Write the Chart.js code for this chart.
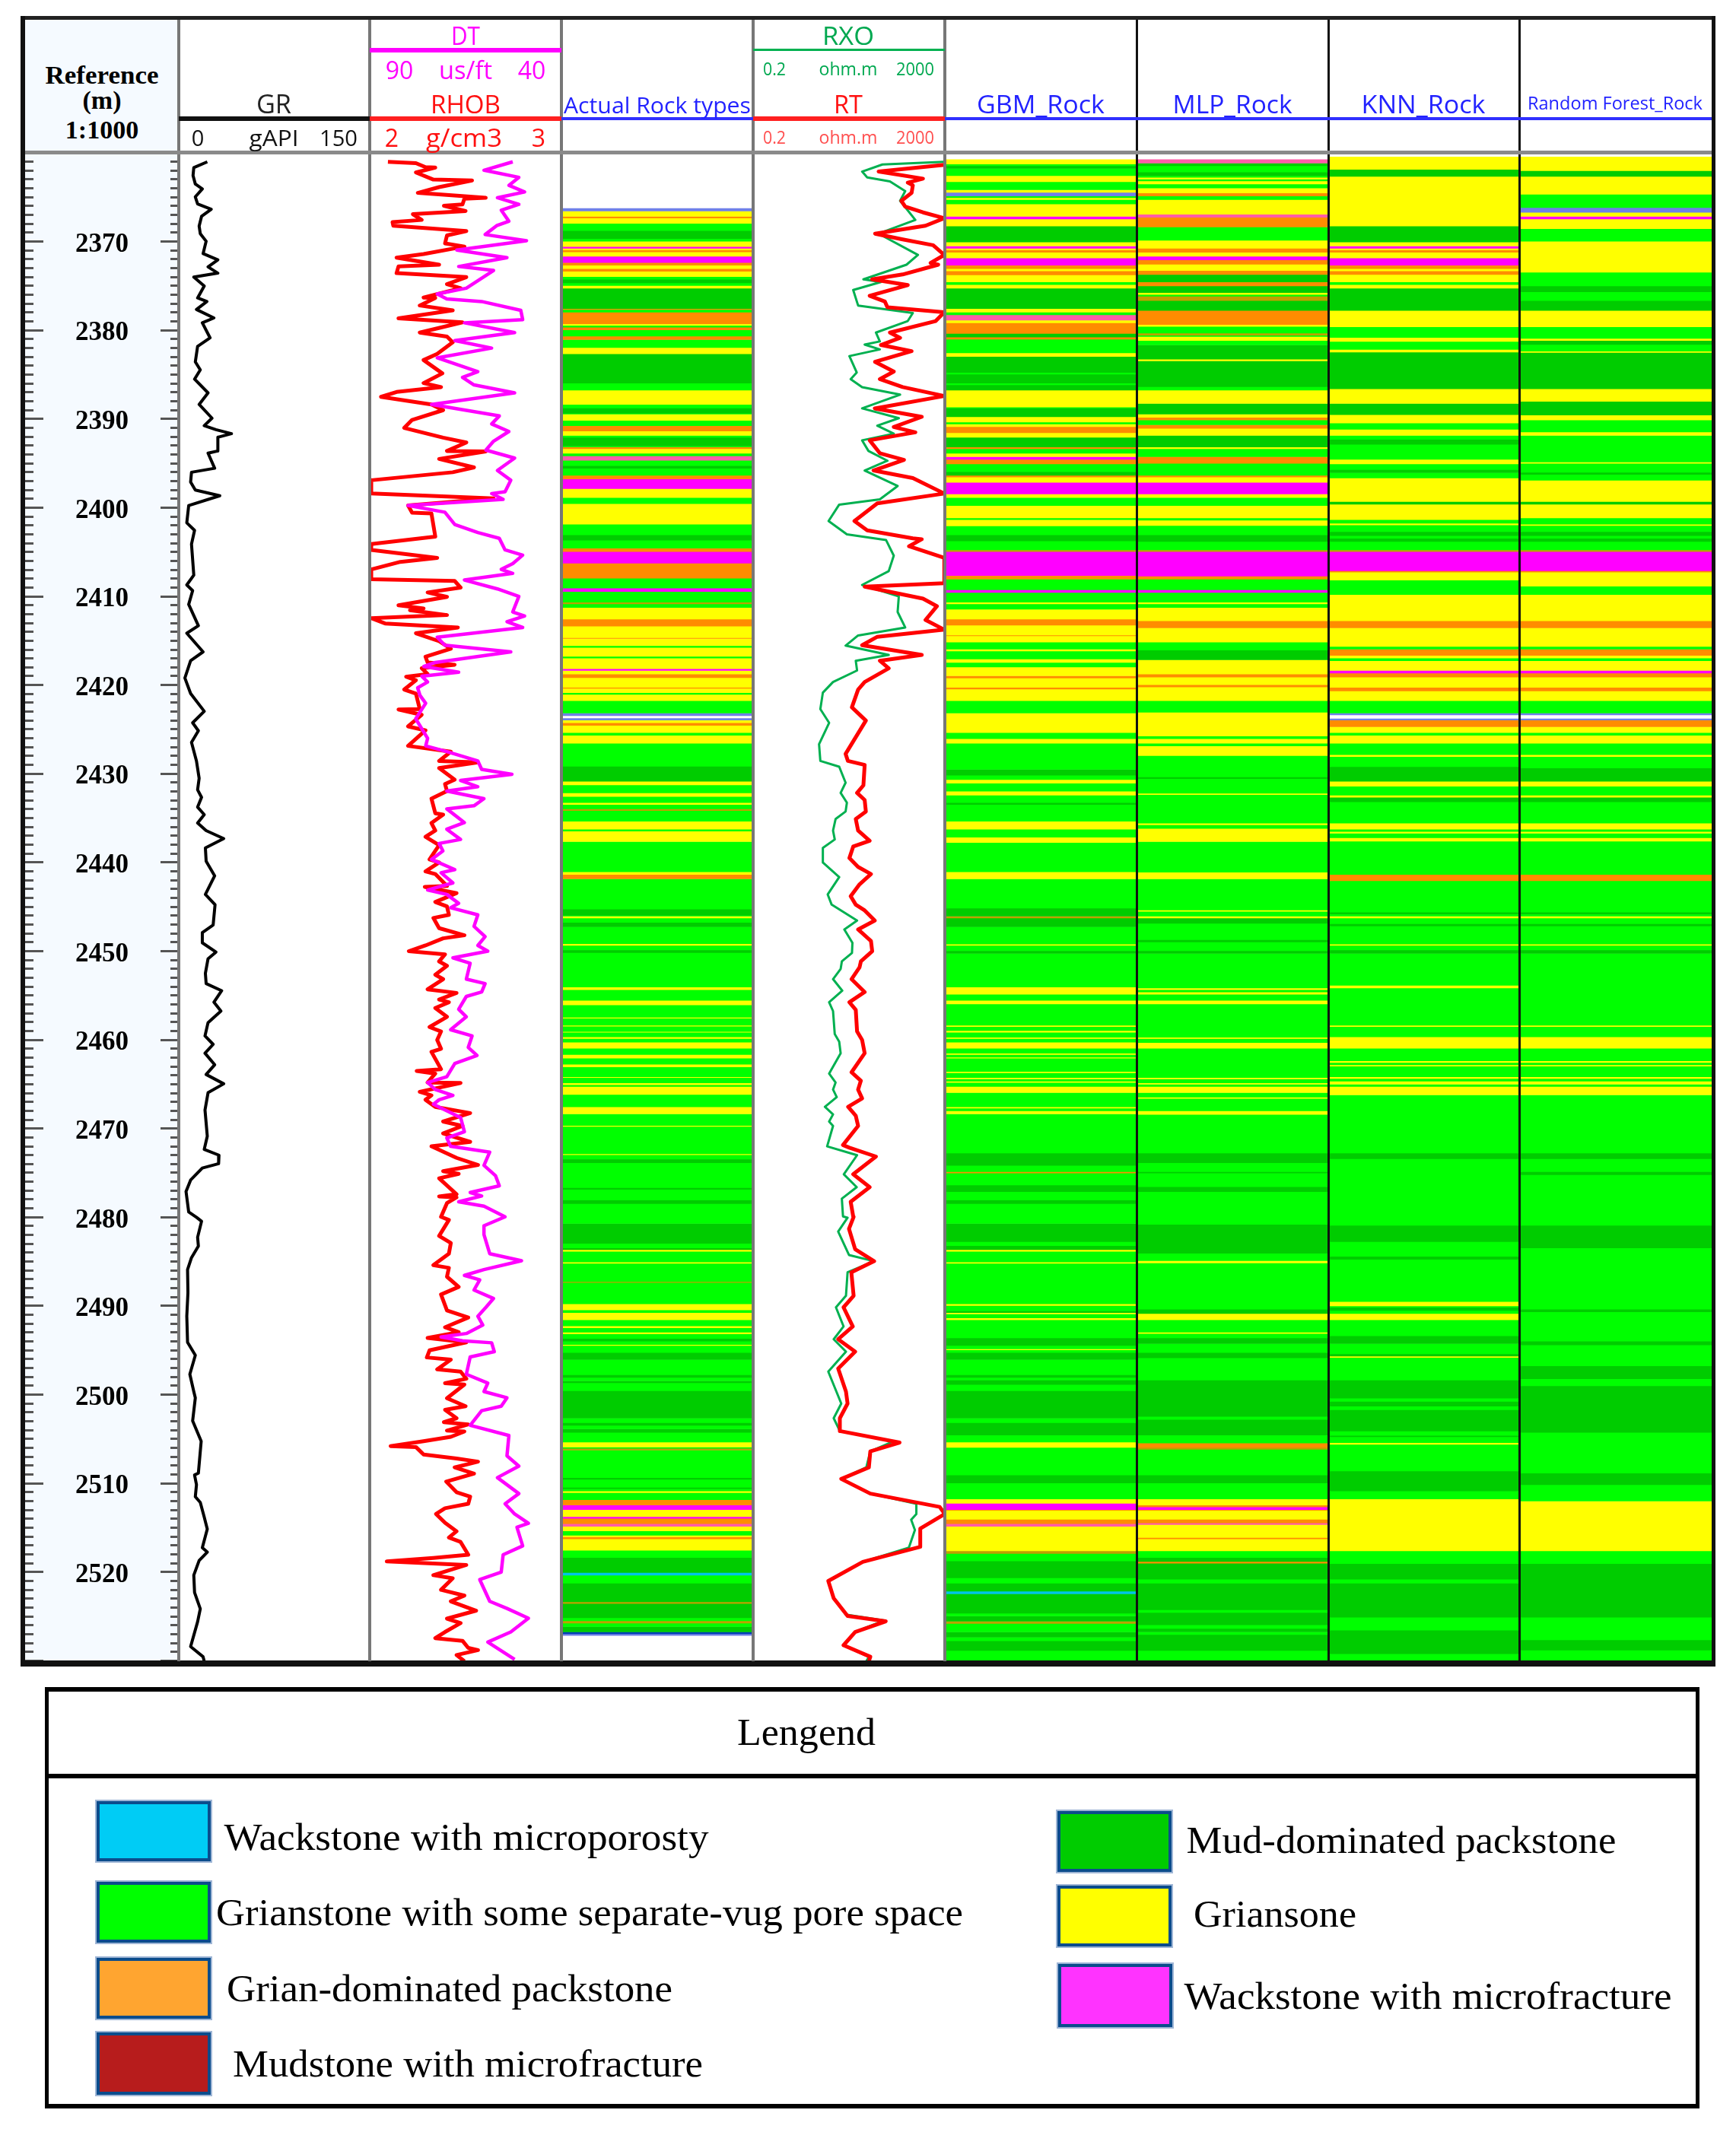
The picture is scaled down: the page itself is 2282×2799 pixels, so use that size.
<!DOCTYPE html>
<html>
<head>
<meta charset="utf-8">
<title>Rock type log</title>
<script src="https://cdn.jsdelivr.net/npm/chart.js"></script>
<style>
  html, body { margin: 0; padding: 0; background: #fff; }
  #page { position: relative; width: 2282px; height: 2799px; overflow: hidden; background: #fff; filter: blur(0.7px); }
  #page canvas { position: absolute; }
  .box { position: absolute; }
  .txt { position: absolute; white-space: nowrap; line-height: 1; }
</style>
</head>
<body>
<div id="page"></div>
<script>
const depthTop = 2360.3;
const depthBottom = 2530.1;
const depthLabels = [2370, 2380, 2390, 2400, 2410, 2420, 2430, 2440, 2450, 2460, 2470, 2480, 2490, 2500, 2510, 2520];

// curves are [depth m, reading]
const grLog = [[2361.05,22.4],[2361.7,11.8],[2362.6,11.2],[2363.55,13],[2364.1,18.5],[2365,13],[2365.8,14.8],[2366.4,25.5],[2367.2,17.9],[2368.3,16],[2369.15,16.9],[2370,21.5],[2371.4,19.1],[2372.1,30.7],[2372.9,23],[2373.6,30.7],[2374.05,11.8],[2375.05,20],[2376.4,14.8],[2376.8,22.1],[2377.7,13.9],[2378.65,27.6],[2379.2,18.5],[2380.9,24.6],[2381.85,14.8],[2383.6,13],[2384.5,16.9],[2385.55,12.4],[2387.1,23],[2388.4,16],[2389.95,26.1],[2390.8,20],[2391.25,29.2],[2391.7,41.4],[2392.1,30.7],[2393.65,30.7],[2393.9,23],[2395.6,28.2],[2396.05,10],[2397.15,9.3],[2398.05,13],[2398.7,32.2],[2399.8,7.8],[2401.75,6.3],[2402.6,12.4],[2404.15,10],[2407.65,11.8],[2408.75,6.3],[2409.4,10.9],[2410.95,7.8],[2413.35,15.4],[2414.2,6.3],[2416.3,19.1],[2417.3,9.3],[2419.25,4.8],[2421,9.3],[2423,20],[2424.3,10.9],[2425.2,15.4],[2426.5,10],[2428.6,13.9],
  [2430.55,16],[2431.85,14.8],[2432.7,17.9],[2433.8,14.8],[2434.65,20],[2435.6,14.8],[2436.45,21.5],[2437.35,35.3],[2438.4,20.9],[2439.9,21.5],[2441.55,28.2],[2443.65,20.9],[2444.8,28.5],[2447.1,27],[2447.95,18.5],[2449.1,18.5],[2450.15,29.2],[2450.9,23],[2452.55,20.9],[2453.7,21.5],[2454.5,33.7],[2455.8,27.6],[2456.8,33.1],[2458.1,23],[2459.6,20.6],[2460.55,27],[2461.55,20.6],[2462.85,28.2],[2463.95,21.5],[2465,35.3],[2466,23],[2467.95,20.6],[2470.9,22.4],[2472.4,20],[2473.05,31.6],[2474,31.3],[2474.5,18.5],[2475.85,9.3],[2477.15,5.7],[2479.45,7.8],
  [2480.05,13.9],[2480.5,17.9],[2482.3,14.8],[2483.3,15.4],[2484.6,10],[2485.95,6.9],[2488.55,7.2],[2491.2,6.3],[2494.15,6.9],[2495.6,13],[2497.75,8.7],[2499.7,11.8],[2500.4,13],[2503,10.9],[2505.3,17.6],[2508.9,15.4],[2509.1,12.4],[2510.2,13.9],[2511.55,13],[2512.2,16.9],[2513.85,20],[2515.2,22.4],[2517.3,18.5],[2517.8,22.4],[2518.75,16],[2520.4,11.8],[2522.35,12.4],[2524.2,16.9],[2525.65,14.8],[2528.45,9.3],[2529.6,19.1],[2530.1,20]];

const rhobLog = [[2361.05,2.095],[2361.2,2.241],[2361.65,2.291],[2361.7,2.342],[2362.25,2.241],[2363.05,2.332],[2363.15,2.534],[2363.9,2.362],[2364.55,2.251],[2365.1,2.605],[2365.2,2.494],[2365.85,2.484],[2366,2.387],[2366.6,2.5],[2366.95,2.225],[2367.6,2.271],[2367.85,2.119],[2368.25,2.123],[2368.85,2.504],[2369.35,2.403],[2370.25,2.393],[2370.6,2.494],[2371.45,2.281],[2371.85,2.14],[2372.65,2.362],[2372.85,2.15],[2373.6,2.14],[2374.05,2.504],[2374.85,2.403],[2375.3,2.474],[2376.35,2.281],[2376.4,2.342],[2377.25,2.261],[2377.8,2.433],[2378.7,2.15],[2379.15,2.484],[2380.3,2.261],[2380.75,2.403],[2381.4,2.433],[2382.7,2.352],[2383.4,2.281],[2384.9,2.379],[2386,2.281],[2386.45,2.372],[2387,2.14],[2387.55,2.059],[2388.4,2.322],[2389.05,2.383],[2390.15,2.221],[2391.05,2.18],[2392.15,2.383],[2392.7,2.504],[2393.65,2.403],[2393.7,2.605],[2394.55,2.362],[2395.5,2.544],[2396.05,2.433],[2396.95,2.008],[2398.45,2.008],[2399,2.646],[2399.8,2.2],[2400.6,2.221],[2400.7,2.322],[2403.3,2.342],[2404.15,2.008],[2404.8,2.008],[2405.7,2.352],[2406.15,2.16],[2407,2.008],[2408.1,2.008],[2408.3,2.443],[2409.05,2.474],[2409.6,2.302],[2410.1,2.403],[2411.05,2.15],[2411.4,2.281],[2411.6,2.21],[2412.15,2.403],[2412.5,2.008],[2413.1,2.08],[2413.55,2.46],[2414.2,2.241],[2415.1,2.362],[2415.95,2.423],[2416.85,2.291],[2417.5,2.302],[2417.75,2.443],[2418.15,2.271],[2418.8,2.302],[2419.1,2.19],[2419.5,2.241],[2420.55,2.18],[2421,2.241],[2422.75,2.261],[2422.8,2.15],[2423.4,2.271],[2424.7,2.2],[2425.15,2.291],[2426.9,2.2],[2427.55,2.423],[2428.6,2.362],
  [2428.75,2.565],[2429.4,2.362],[2430.7,2.443],[2431.2,2.393],[2432,2.403],[2432.85,2.322],[2434.5,2.342],[2434.65,2.383],[2435.6,2.322],[2436.45,2.342],[2437.15,2.291],[2438.1,2.362],[2439.7,2.312],[2440.05,2.362],[2441.05,2.291],[2441.35,2.342],[2442.7,2.403],[2442.8,2.287],[2443.5,2.453],[2444.5,2.342],[2445,2.403],[2445.95,2.413],[2446.3,2.332],[2447.45,2.362],[2448.25,2.494],[2448.6,2.383],[2449.4,2.291],[2450.05,2.204],[2450.4,2.393],[2451.2,2.362],[2451.7,2.403],[2452.7,2.342],[2453.2,2.383],[2454.35,2.302],[2454.75,2.453],[2455.5,2.362],[2455.8,2.413],[2456.45,2.342],[2457.45,2.403],[2458.6,2.312],[2459.1,2.372],[2460.05,2.352],[2461.05,2.372],[2461.4,2.322],[2463.35,2.372],[2463.55,2.245],[2463.85,2.342],[2464.85,2.302],[2464.9,2.474],[2465.9,2.261],[2466.3,2.322],[2466.8,2.291],[2467.6,2.342],[2468.3,2.524],[2469.25,2.383],[2469.75,2.484],[2470.6,2.383],[2471.55,2.524],[2472.05,2.322],[2473.35,2.453],[2474.15,2.565],[2474.85,2.383],[2475.15,2.464],[2475.65,2.362],[2477.45,2.453],[2477.7,2.362],[2477.8,2.453],[2478.45,2.403],[2480,2.372],
  [2480.35,2.413],[2482.15,2.362],[2482.95,2.423],[2484.15,2.413],[2485.45,2.332],[2485.75,2.413],[2486.75,2.403],[2487.9,2.464],[2488.75,2.372],[2490.55,2.403],[2491.35,2.514],[2492.45,2.393],[2493,2.464],[2493.65,2.302],[2494.15,2.504],[2495.05,2.312],[2495.85,2.298],[2496.1,2.423],[2497.2,2.352],[2497.45,2.474],[2498.25,2.504],[2498.75,2.393],[2498.9,2.494],[2500.45,2.403],[2501.35,2.5],[2501.75,2.393],[2502.7,2.453],[2503.15,2.387],[2503.4,2.514],[2504.1,2.403],[2504.2,2.494],[2504.8,2.423],[2505.3,2.281],[2505.85,2.109],[2505.95,2.241],[2506.8,2.281],[2507.25,2.453],[2507.6,2.565],[2508.25,2.443],[2508.95,2.544],[2509.85,2.399],[2511.05,2.453],[2511.55,2.524],[2512.35,2.514],[2512.85,2.393],[2513.5,2.346],[2514.5,2.393],[2515.45,2.453],[2516.15,2.413],[2516.65,2.474],[2518.1,2.514],[2518.45,2.332],[2518.85,2.089],[2519.25,2.504],[2520.4,2.332],[2520.75,2.433],[2522.05,2.372],[2522.7,2.494],[2523.35,2.423],[2524.4,2.555],[2525.3,2.403],[2525.8,2.474],[2526.8,2.393],[2527.5,2.342],[2527.8,2.484],[2528.6,2.514],[2528.85,2.565],[2529.4,2.453],[2530.1,2.494]];

const dtLog = [[2361.05,52.7],[2362,60.2],[2362.8,51.1],[2363.7,53.7],[2364.45,49.6],[2365.1,56.7],[2365.85,51.1],[2366.5,55.7],[2367.75,53.7],[2368.25,56.9],[2369.25,59.9],[2369.95,49.1],[2371,67.3],[2371.85,54.2],[2372.85,66.8],[2373.3,57.7],[2375.3,64.8],[2375.95,72.4],[2376.5,69.9],[2376.8,60.8],[2377.8,50.6],[2378.85,50.1],[2379.2,65.3],[2380.3,52.2],[2381.2,67.8],[2382.05,58.2],[2383.15,72.4],[2384.7,61.8],[2385.35,65.8],[2386.2,62.8],[2387.1,52.2],[2388.4,73.9],[2389.7,56.2],[2390.6,58.2],[2391.45,53.7],[2392.55,57.7],[2393.55,59.7],[2394.45,52.2],[2395.85,56.7],[2396.95,53.2],[2398.25,54.7],[2398.45,58.2],[2399.1,55.2],[2399.8,80],[2400.55,70.4],[2401.95,67.8],[2402.85,61.8],[2403.5,56.2],[2404.8,54.7],[2405.4,50.1],[2406.35,52.7],[2407,55.7],[2407.45,52.7],[2408.2,65.3],[2409.2,56.7],[2410.05,51.1],[2411.8,52.7],[2412.25,49.6],[2412.9,54.2],[2413.55,50.1],[2414.65,72.4],[2415.55,70.4],[2416.3,53.2],[2417.5,72.9],[2417.95,75.9],[2418.6,66.8],[2419.05,76.4],[2419.7,74.9],[2420.35,77.5],[2421.2,76.9],[2422.1,75.4],[2423.85,78],[2426.05,74.9],[2426.9,75.4],[2427.55,69.9],[2428.6,61.8],
  [2429.55,60.8],[2430.1,52.9],[2430.8,66.3],[2431.5,61.8],[2432,69.9],[2432.85,60.2],[2433.65,62.8],[2434,69.9],[2435.55,65.3],[2436.3,69.9],[2437.45,66.3],[2437.9,71.9],[2438.75,70.9],[2439.7,73.9],[2440.85,67.8],[2441.2,71.4],[2442.35,68.3],[2443.15,74.9],[2443.65,69.9],[2444.65,66.8],[2445.15,68.9],[2445.95,61.8],[2447.25,62.8],[2448.4,59.9],[2449.4,61.8],[2450.05,59.2],[2450.8,68.3],[2451.4,63.8],[2453.2,64.8],[2453.7,59.9],[2454.65,60.8],[2455.15,64.8],[2456.6,66.8],[2457.45,64.8],[2458.9,68.9],[2459.6,63.3],[2460.9,64.3],[2461.8,62],[2462.7,67.8],[2464.2,69.9],[2464.85,74.9],[2465.65,72.9],[2466.3,68.3],[2466.8,71.9],[2467.3,73.4],[2468.8,66.3],[2470.4,65.3],[2471.1,69.9],[2472.05,68.9],[2472.7,58.7],[2474.2,60.2],[2475.35,57.2],[2476.5,56.2],[2477.25,63.8],[2477.65,60.8],[2478.3,66.8],[2478.8,60.2],[2480,54.7],
  [2481,60.2],[2482,60.2],[2484.15,58.7],[2484.95,50.4],[2485.95,60.2],[2486.6,65.3],[2487.1,61.3],[2488.25,62.8],[2489.2,57.7],[2490.2,59.7],[2491.2,61.8],[2492.2,60.5],[2493.15,64.8],[2493.55,71.4],[2493.98,65.8],[2494.2,58.2],[2495.2,57.5],[2495.8,63.8],[2497.75,64.8],[2498.75,59.2],[2499.7,60.2],[2500.4,54.2],[2501.35,55.7],[2501.85,60.8],[2503.5,63.8],[2504.65,53.7],[2506.95,54.2],[2508.1,51.1],[2509.4,56.7],[2511.2,51.1],[2512.35,54.7],[2513.5,52.2],[2514.55,48.6],[2515,51.6],[2517.1,50.1],[2518.1,55.2],[2520.05,55.7],[2520.9,61.3],[2523.35,58.7],[2524.15,54.2],[2525.25,48.6],[2526.8,53.2],[2527.95,59.2],[2529.9,52.2]];

const rxoLog = [[2361.05,1950],[2361.35,99.6],[2362.15,37.6],[2362.8,48],[2363.25,143],[2364.35,298],[2365.45,233],[2367.6,485],[2369.15,83],[2371.55,549],[2372.65,317],[2374.3,40],[2374.6,93],[2375.5,24.5],[2377.25,31],[2378.1,430],[2379,337],[2380.3,73],[2381.3,88],[2381.65,42.5],[2382.2,88],[2382.95,20.4],[2384.8,29],[2385.55,21.7],[2386.45,37.6],[2387.3,233],[2388.85,37.6],[2389.95,219],[2390.8,78],[2391.7,172],[2392.45,37.6],[2393.65,51],[2394.75,127],[2395.85,42.5],[2397.6,207],[2399.1,88],[2399.7,12.5],[2401.55,7.5],[2403.05,18.1],[2403.7,119],[2405.45,172],[2407.2,135],[2408.75,37.6],[2410.05,219],[2411.8,207],[2413.55,298],[2414.45,31],[2415.6,17],[2416.65,135],[2417.3,27.7],[2418.4,29.5],[2419.7,9.3],[2420.9,5.7],[2422.75,5.05],[2424.3,7.7],[2426.7,4.75],[2428.6,5.05],
  [2429.25,12.5],[2431.05,17],[2432.2,13.4],[2433.3,18.1],[2434.3,17],[2435.15,10.5],[2436.45,9.3],[2437.45,10.1],[2438.4,5.7],[2440.05,5.7],[2441.7,12.5],[2443.65,7.2],[2444.8,8.7],[2446.6,29.5],[2447.6,16],[2449.1,23.6],[2450.25,23.1],[2451.2,14.2],[2452.05,13.4],[2453.2,9.3],[2454.5,14.5],[2455.8,7.7],[2456.8,9.3],[2459.4,10.1],[2460.25,12.5],[2461.55,13.4],[2463.85,7.7],[2464.85,10.5],[2465.65,9.3],[2466.5,11.1],[2467.6,6.3],[2468.45,9.3],[2469.25,7.7],[2469.75,9.3],[2472.05,7],[2473.05,29.5],[2475.2,15.6],[2476.65,29],[2477.95,14.2],[2479.95,15],
  [2480.1,18.7],[2481.65,11.9],[2484.3,20],[2485,67],[2486.25,18.7],[2488.9,17.3],[2490.2,10.7],[2492.35,15.4],[2493.8,9.6],[2495.2,17.3],[2497.45,7.4],[2501.05,13.8],[2502.7,9.6],[2504.15,12.9],[2505.3,170],[2506.45,55.7],[2508.25,46],[2509.55,13.8],[2511.2,55.7],[2512.35,509],[2513.5,509],[2514.15,397],[2515.3,475],[2517.3,355],[2518.9,38.9],[2521.05,7.4],[2523,9.6],[2524.85,17.3],[2525.5,109],[2526.8,26.9],[2528.3,15.4],[2529.6,52],[2530.1,46]];

const rtLog = [[2361.4,1950],[2362.15,83],[2362.95,700],[2363.4,337],[2363.7,430],[2364.55,405],[2365.45,248],[2366.1,298],[2366.75,700],[2367.4,1950],[2368.25,790],[2369.15,70],[2369.8,264],[2370.45,1140],[2371.55,1950],[2372.45,1010],[2372.65,1455],[2373.75,264],[2374.3,61],[2374.95,337],[2376.15,54],[2376.8,112],[2377.45,127],[2378,1950],[2379,1290],[2380.3,143],[2380.9,233],[2381.7,93],[2382.4,405],[2383.6,70],[2384.7,172],[2385.55,88],[2386.45,264],[2387.45,1950],[2388.85,69],[2389.8,660],[2390.95,172],[2391.55,485],[2392.45,54],[2393.9,88],[2394.65,281],[2395.85,65],[2396.7,430],[2398.45,1950],[2399.55,78],[2401.55,26],[2402.6,48],[2403.5,430],[2403.6,660],[2404.4,358],[2405.7,1950],[2408.55,1950],[2408.95,42.5],[2410.3,700],[2411.15,1370],[2412.7,790],[2413.8,1950],[2414.6,78],[2415.55,37.6],[2416.65,660],[2417.3,88],[2418.15,135],[2419.7,42.5],[2420.55,31],[2422.55,23],[2424.05,45],[2427.8,17],[2428.6,19],
  [2429.05,42.5],[2431.35,40],[2432.2,29.5],[2433,42.5],[2434.3,45],[2435.15,27.7],[2436.45,31],[2437.6,54],[2438.25,24.5],[2439.55,20.4],[2440.55,31],[2441.35,57.5],[2442.5,33.3],[2443.85,21.7],[2444.8,27.7],[2445.45,42.5],[2446.6,69],[2447.6,31],[2448.9,57.5],[2450.05,61],[2451.2,35.4],[2451.85,33.3],[2453.2,22.6],[2454.65,42.5],[2455.8,20.4],[2456.65,27.7],[2459.1,29.5],[2460.05,37.6],[2461.55,42.5],[2463.7,22.6],[2464.65,35.4],[2465.65,31],[2466.65,37.6],[2467.6,19.2],[2468.6,27.7],[2469.75,31],[2471.9,15],[2472.2,20.4],[2473.2,73],[2475.2,24.5],[2476.65,54],[2478.3,21.7],[2479.95,24.5],
  [2480,25],[2481.35,20],[2483.65,26.9],[2485,67],[2486.25,22.4],[2488.9,25],[2490.2,15.4],[2492.35,24],[2493.8,11.9],[2495.2,26.9],[2497.1,11.9],[2499.7,17.3],[2501.05,18.7],[2502.7,12.9],[2504.15,12.9],[2505.45,227],[2506.45,55.7],[2508.25,52],[2509.55,13.8],[2511.2,55.7],[2512.7,1560],[2513.5,2000],[2515.15,614],[2517.2,614],[2518.9,38.9],[2521.05,7.4],[2523,9.6],[2525,18.7],[2525.6,117],[2526.8,26.9],[2528.3,15.4],[2529.6,55.7],[2530.1,52]];

// rock bands are [top depth m, facies code]; a band runs to the next top, null means no core
const actualBands = [[2366.3,'B'],[2366.6,'Y'],[2367.2,'O'],[2367.4,'Y'],[2368,'G'],[2368.8,'D'],[2369.7,'G'],[2370,'Y'],[2370.6,'F'],[2370.8,'Y'],[2371,'O'],[2371.2,'Y'],[2371.7,'F'],[2372.4,'O'],[2372.7,'Y'],[2373.1,'O'],[2373.4,'Y'],[2374,'G'],[2374.3,'D'],[2374.7,'G'],[2375,'Y'],[2375.3,'D'],[2377.6,'O'],[2377.7,'G'],[2378,'O'],[2379.3,'Y'],[2379.5,'G'],[2379.7,'O'],[2380,'G'],[2380.7,'O'],[2381.1,'G'],[2382,'Y'],[2382.7,'D'],[2386,'G'],[2386.8,'Y'],[2388.4,'G'],[2388.8,'D'],[2389.4,'G'],[2389.5,'Y'],[2390.2,'G'],[2390.8,'O'],[2391.4,'Y'],[2391.9,'G'],[2392.1,'D'],[2393.1,'G'],[2393.2,'O'],[2393.4,'Y'],[2393.9,'G'],[2394.2,'P'],[2394.7,'G'],[2395.3,'D'],[2395.6,'G'],[2396.4,'O'],[2396.8,'F'],[2397.9,'Y'],[2398.9,'G'],[2399.6,'Y'],[2401.9,'G'],[2403.1,'D'],[2403.7,'G'],[2404.6,'O'],[2405,'F'],[2406.3,'O'],[2408,'G'],[2409.1,'F'],[2409.5,'G'],[2410.7,'L'],[2410.9,'G'],[2411.3,'Y'],[2412.6,'O'],[2413.4,'Y'],[2414.7,'O'],[2414.8,'Y'],[2415.6,'G'],[2415.8,'Y'],[2416.8,'G'],[2417,'Y'],[2418.2,'F'],[2418.4,'Y'],[2418.8,'O'],[2419.2,'Y'],[2420.3,'O'],[2420.4,'Y'],[2420.9,'G'],[2421.1,'Y'],[2421.8,'G'],[2423.2,'B'],[2423.5,null],[2423.8,'B'],[2424,'Y'],[2424.3,'O'],[2424.6,'Y'],[2425.4,'G'],[2425.7,'Y'],[2426.6,'G'],
  [2429.2,'D'],[2430.9,'Y'],[2431.3,'G'],[2432.2,'Y'],[2432.6,'G'],[2433.3,'Y'],[2433.5,'G'],[2434,'L'],[2434.2,'G'],[2435.4,'Y'],[2436.3,'G'],[2436.5,'Y'],[2437.7,'G'],[2441.1,'Y'],[2441.4,'O'],[2441.9,'G'],[2445.3,'D'],[2446,'G'],[2446.1,'Y'],[2446.3,'G'],[2446.8,'D'],[2447.3,'G'],[2449.2,'Y'],[2449.4,'G'],[2449.9,'D'],[2450.2,'G'],[2454.1,'Y'],[2454.4,'G'],[2455.6,'Y'],[2456.1,'G'],[2457.5,'Y'],[2457.6,'G'],[2458.4,'Y'],[2458.5,'G'],[2459.1,'Y'],[2459.2,'G'],[2459.7,'Y'],[2459.9,'G'],[2460.3,'Y'],[2461,'G'],[2461.7,'Y'],[2462.1,'G'],[2462.8,'Y'],[2463.1,'G'],[2464.2,'Y'],[2464.3,'G'],[2464.9,'Y'],[2465.1,'G'],[2465.3,'Y'],[2466.2,'G'],[2467.6,'Y'],[2468.4,'G'],[2469.7,'Y'],[2469.8,'G'],[2472.9,'Y'],[2473,'G'],[2473.5,'D'],[2473.9,'G'],[2476.7,'D'],[2476.9,'G'],[2478.1,'D'],[2478.5,'G'],
  [2480.75,'D'],[2483,'G'],[2483.5,'D'],[2483.7,'Y'],[2483.9,'G'],[2485.1,'Y'],[2485.25,'G'],[2487.3,'L'],[2487.4,'G'],[2489.8,'Y'],[2490.5,'G'],[2490.8,'Y'],[2491.6,'G'],[2492.3,'Y'],[2492.5,'G'],[2493,'Y'],[2493.2,'G'],[2493.7,'D'],[2494,'G'],[2494.4,'Y'],[2494.5,'G'],[2495.3,'D'],[2496.1,'G'],[2497.8,'D'],[2498.1,'G'],[2498.5,'D'],[2498.7,'G'],[2499.6,'D'],[2502.7,'G'],[2503.2,'D'],[2503.5,'G'],[2503.9,'D'],[2504.3,'G'],[2505.4,'Y'],[2505.96,'G'],[2506.1,'L'],[2506.3,'G'],[2509.4,'D'],[2509.6,'G'],[2510.5,'D'],[2510.65,'G'],[2510.9,'Y'],[2511.1,'G'],[2511.9,'O'],[2512.5,'F'],[2513,'Y'],[2513.8,'F'],[2514,'O'],[2514.6,'P'],[2514.9,'Y'],[2515.4,'G'],[2515.9,'Y'],[2516.1,'O'],[2516.3,'Y'],[2517.6,'G'],[2518.4,'D'],[2520.1,'C'],[2520.4,'G'],[2521.3,'D'],[2523.4,'L'],[2523.6,'D'],[2525.2,'G'],[2525.55,'L'],[2525.8,'G'],[2526.2,'D'],[2526.8,'N'],[2527,'B'],[2527.2,null]];

const gbmBands = [[2360.8,'Y'],[2361.3,'G'],[2361.5,'D'],[2361.8,'G'],[2362.6,'Y'],[2363.3,'G'],[2364.2,'Y'],[2364.5,'B'],[2364.9,'G'],[2365.1,'Y'],[2365.3,'G'],[2365.8,'Y'],[2367.2,'F'],[2367.5,'Y'],[2368.3,'D'],[2370.1,'Y'],[2370.55,'F'],[2370.8,'Y'],[2371,'O'],[2371.25,'Y'],[2371.9,'F'],[2372.7,'O'],[2373.1,'Y'],[2373.35,'O'],[2373.8,'Y'],[2374.6,'G'],[2374.9,'Y'],[2375.3,'D'],[2377.6,'Y'],[2378,'G'],[2378.3,'P'],[2378.9,'Y'],[2379.2,'O'],[2380.4,'D'],[2380.8,'O'],[2381.05,'G'],[2382.6,'Y'],[2383,'D'],[2384.8,'G'],[2385,'D'],[2386,'G'],[2386.2,'D'],[2386.8,'Y'],[2388.7,'G'],[2388.8,'D'],[2389.8,'Y'],[2390.4,'G'],[2390.6,'Y'],[2390.9,'O'],[2391.6,'Y'],[2392.1,'D'],[2393.2,'O'],[2393.4,'G'],[2393.9,'Y'],[2394.3,'F'],[2394.6,'O'],[2395.1,'G'],[2396,'D'],[2396.4,'O'],[2396.6,'Y'],[2397.2,'F'],[2398.5,'Y'],[2398.9,'G'],[2399.8,'Y'],[2401.2,'G'],[2401.4,'Y'],[2402.1,'G'],[2403.1,'D'],[2403.8,'G'],[2404.8,'L'],[2405,'F'],[2407.7,'O'],[2408.1,'G'],[2409.3,'F'],[2409.6,'G'],[2410.7,'Y'],[2410.9,'G'],[2411.5,'Y'],[2412.6,'O'],[2413.3,'Y'],[2414.4,'O'],[2414.5,'Y'],[2415.2,'G'],[2416,'Y'],[2416.2,'G'],[2417.1,'Y'],[2417.5,'G'],[2418,'Y'],[2419,'O'],[2419.25,'Y'],[2420.3,'O'],[2420.5,'Y'],[2421.8,'G'],[2423.2,'Y'],[2425.4,'G'],[2426.1,'Y'],[2426.6,'G'],
  [2429.55,'D'],[2430.2,'G'],[2430.7,'Y'],[2431.1,'G'],[2432,'Y'],[2432.45,'G'],[2433.3,'D'],[2433.5,'G'],[2435.4,'Y'],[2436.3,'G'],[2437.2,'Y'],[2437.8,'G'],[2441.1,'Y'],[2441.9,'G'],[2445.2,'D'],[2446.1,'L'],[2446.3,'D'],[2447.3,'G'],[2449.25,'Y'],[2449.4,'G'],[2450,'D'],[2450.3,'G'],[2454.1,'Y'],[2454.9,'G'],[2455.6,'Y'],[2456,'G'],[2458.4,'Y'],[2458.55,'G'],[2459,'Y'],[2459.2,'G'],[2459.75,'Y'],[2459.9,'G'],[2460.3,'Y'],[2461,'G'],[2461.55,'Y'],[2461.7,'G'],[2462,'Y'],[2462.1,'G'],[2463.6,'Y'],[2463.75,'G'],[2464.3,'Y'],[2464.45,'G'],[2464.7,'Y'],[2464.85,'G'],[2465.3,'Y'],[2466,'G'],[2467.6,'Y'],[2467.75,'G'],[2468.05,'Y'],[2468.4,'G'],[2472.8,'D'],[2474.2,'G'],[2474.9,'O'],[2475.05,'G'],[2476.4,'D'],[2477.15,'G'],[2478.1,'D'],[2478.5,'G'],
  [2480.75,'D'],[2482.8,'G'],[2483.25,'D'],[2483.7,'Y'],[2483.9,'G'],[2485.1,'Y'],[2485.25,'G'],[2489.8,'Y'],[2490,'G'],[2490.6,'D'],[2490.8,'Y'],[2490.95,'G'],[2491.4,'Y'],[2491.6,'G'],[2493.65,'D'],[2494.5,'G'],[2494.9,'Y'],[2495,'G'],[2495.3,'D'],[2496.1,'G'],[2497.8,'D'],[2498.1,'G'],[2498.4,'D'],[2498.9,'G'],[2499.6,'D'],[2502.7,'G'],[2503.2,'D'],[2504.6,'G'],[2505.4,'Y'],[2506,'G'],[2509.1,'D'],[2510,'G'],[2511.8,'Y'],[2512.3,'F'],[2513,'O'],[2513.1,'Y'],[2514.1,'O'],[2514.6,'P'],[2514.9,'Y'],[2517.65,'L'],[2517.95,'G'],[2518.8,'D'],[2520.7,'G'],[2521.3,'D'],[2522.2,'C'],[2522.5,'D'],[2524.7,'G'],[2525,'D'],[2525.6,'L'],[2525.85,'G'],[2526.8,'D'],[2527.4,'G'],[2527.8,'D'],[2528.9,'G'],[2530.1,null]];

const mlpBands = [[2360.8,'P'],[2361.2,'D'],[2361.5,'G'],[2362.2,'D'],[2362.6,'G'],[2362.8,'Y'],[2363,'G'],[2363.2,'Y'],[2363.55,'G'],[2364,'Y'],[2364.55,'O'],[2364.9,'G'],[2365.3,'Y'],[2366.96,'P'],[2367.3,'O'],[2368.4,'G'],[2369.9,'Y'],[2370.8,'O'],[2371.25,'Y'],[2371.7,'F'],[2372.1,'O'],[2372.6,'Y'],[2373.3,'O'],[2373.75,'D'],[2374.6,'O'],[2375.05,'D'],[2375.8,'Y'],[2376,'G'],[2376.2,'L'],[2376.7,'D'],[2377.8,'O'],[2379.4,'Y'],[2379.6,'G'],[2380.35,'L'],[2380.6,'G'],[2380.75,'Y'],[2381.2,'G'],[2381.7,'D'],[2383.3,'Y'],[2383.5,'D'],[2386.4,'G'],[2386.8,'Y'],[2388.3,'D'],[2389.5,'Y'],[2389.85,'O'],[2390.15,'G'],[2390.7,'O'],[2391.1,'Y'],[2391.9,'D'],[2393.2,'Y'],[2393.4,'G'],[2394.3,'O'],[2395.05,'G'],[2396.4,'O'],[2396.6,'Y'],[2397.2,'F'],[2398.5,'Y'],[2398.9,'G'],[2399.8,'Y'],[2401.2,'G'],[2401.45,'Y'],[2402.05,'G'],[2403.1,'D'],[2403.85,'G'],[2404.8,'L'],[2405,'F'],[2407.75,'O'],[2408.1,'G'],[2409.3,'F'],[2409.6,'G'],[2410.7,'Y'],[2410.9,'G'],[2411.3,'Y'],[2412.8,'O'],[2413.6,'Y'],[2415.2,'G'],[2416.1,'D'],[2417.2,'Y'],[2418.8,'O'],[2419.15,'Y'],[2420,'O'],[2420.25,'Y'],[2421.8,'G'],[2423.1,'Y'],[2425.8,'G'],[2426.1,'Y'],[2426.6,'G'],[2426.9,'Y'],[2428,'G'],
  [2430.4,'D'],[2430.6,'G'],[2432.25,'Y'],[2432.4,'G'],[2435.6,'Y'],[2435.8,'G'],[2436.2,'Y'],[2437.7,'G'],[2441.15,'Y'],[2441.9,'G'],[2445.4,'Y'],[2445.55,'G'],[2446.1,'Y'],[2446.3,'D'],[2446.9,'G'],[2448.75,'D'],[2449,'G'],[2450,'D'],[2450.3,'G'],[2454.2,'Y'],[2454.4,'G'],[2454.65,'Y'],[2454.9,'G'],[2455.6,'Y'],[2456,'G'],[2459.75,'Y'],[2459.9,'G'],[2460.35,'Y'],[2461,'G'],[2464.3,'Y'],[2464.45,'G'],[2464.9,'Y'],[2465.05,'G'],[2465.3,'Y'],[2466,'G'],[2466.5,'Y'],[2466.65,'G'],[2468.05,'Y'],[2468.45,'G'],[2472.8,'D'],[2473.9,'G'],[2474.9,'D'],[2475.05,'G'],[2476.6,'D'],[2477.15,'G'],
  [2480.85,'D'],[2484.1,'G'],[2484.95,'Y'],[2485.2,'G'],[2490.4,'D'],[2490.9,'Y'],[2491.6,'G'],[2493,'Y'],[2493.15,'G'],[2493.65,'D'],[2494.3,'G'],[2495.3,'D'],[2495.9,'G'],[2498.4,'D'],[2502.5,'G'],[2502.85,'D'],[2504.6,'G'],[2505.5,'O'],[2506,'L'],[2506.2,'G'],[2509.1,'D'],[2510,'G'],[2511.8,'Y'],[2512.5,'O'],[2512.7,'F'],[2513,'O'],[2513.1,'Y'],[2514.1,'O'],[2514.5,'P'],[2514.7,'Y'],[2516.15,'O'],[2516.3,'Y'],[2517.65,'G'],[2518.4,'D'],[2518.85,'O'],[2519.05,'D'],[2520.85,'G'],[2521.3,'D'],[2524.3,'G'],[2524.6,'D'],[2526,'G'],[2526.4,'D'],[2526.8,'G'],[2527.1,'D'],[2528.9,'G'],[2530.1,null]];

const knnBands = [[2360.5,'Y'],[2361.9,'D'],[2362.7,'Y'],[2368.3,'D'],[2370.1,'Y'],[2370.55,'F'],[2370.8,'Y'],[2371,'O'],[2371.25,'Y'],[2371.9,'F'],[2372.7,'O'],[2373.1,'Y'],[2373.35,'O'],[2373.75,'Y'],[2374.6,'G'],[2374.9,'Y'],[2375.3,'D'],[2377.8,'Y'],[2379.65,'G'],[2380.85,'Y'],[2381.3,'G'],[2382.2,'Y'],[2382.5,'D'],[2386.65,'Y'],[2388.3,'D'],[2389.55,'Y'],[2390.5,'G'],[2391.2,'Y'],[2391.9,'G'],[2392.35,'D'],[2392.9,'G'],[2394.6,'Y'],[2395.1,'G'],[2395.75,'D'],[2396.1,'G'],[2396.7,'Y'],[2399.35,'D'],[2399.65,'Y'],[2401.4,'G'],[2401.8,'Y'],[2402,'G'],[2402.75,'D'],[2403.2,'G'],[2403.5,'D'],[2403.85,'G'],[2404.8,'L'],[2405,'F'],[2407.15,'O'],[2407.3,'Y'],[2408.2,'G'],[2409.85,'Y'],[2412.8,'O'],[2413.6,'Y'],[2415.7,'G'],[2416,'O'],[2416.7,'Y'],[2417,'G'],[2417.3,'Y'],[2418.4,'F'],[2418.7,'O'],[2419.15,'Y'],[2420.3,'O'],[2420.7,'Y'],[2421.8,'G'],[2423.2,'B'],[2423.4,null],[2423.85,'B'],[2424,'O'],[2424.75,'Y'],[2425.4,'G'],[2425.7,'Y'],[2426.6,'G'],[2427.9,'Y'],[2428.1,'G'],
  [2429.25,'D'],[2430.9,'Y'],[2431.45,'G'],[2432.45,'Y'],[2432.7,'D'],[2433.2,'G'],[2435.6,'Y'],[2436.3,'G'],[2436.55,'Y'],[2436.75,'G'],[2437.25,'Y'],[2437.65,'G'],[2441.4,'O'],[2442.1,'G'],[2445.65,'D'],[2445.85,'G'],[2446.1,'Y'],[2446.3,'G'],[2446.95,'D'],[2447.2,'G'],[2449.25,'Y'],[2449.4,'G'],[2449.9,'D'],[2450.3,'G'],[2453.9,'Y'],[2454.2,'G'],[2458.4,'Y'],[2458.55,'G'],[2459.7,'Y'],[2461,'G'],[2462.4,'Y'],[2462.6,'G'],[2462.85,'Y'],[2463,'G'],[2464.2,'Y'],[2464.4,'G'],[2464.7,'Y'],[2465.05,'G'],[2465.3,'Y'],[2466.25,'G'],[2472.8,'D'],[2473.45,'G'],
  [2480.95,'D'],[2482.8,'G'],[2484.45,'D'],[2484.8,'G'],[2489.55,'Y'],[2490.05,'G'],[2490.2,'D'],[2490.55,'G'],[2490.9,'Y'],[2491.6,'G'],[2493.4,'D'],[2494.3,'G'],[2495.45,'D'],[2495.7,'Y'],[2495.85,'G'],[2498.4,'D'],[2500.45,'G'],[2500.8,'D'],[2501.35,'G'],[2501.75,'D'],[2504.15,'G'],[2504.65,'D'],[2504.8,'G'],[2505.45,'Y'],[2505.65,'G'],[2508.65,'D'],[2510.9,'G'],[2511.8,'Y'],[2517.65,'G'],[2519.1,'D'],[2520.85,'G'],[2521.3,'D'],[2525.15,'G'],[2526.6,'D'],[2529.25,'G'],[2530.1,null]];

const forestBands = [[2360.5,'Y'],[2362.05,'D'],[2362.7,'Y'],[2364.7,'G'],[2366.2,'B'],[2366.75,'Y'],[2367.2,'F'],[2367.5,'Y'],[2368.6,'G'],[2370,'Y'],[2373.5,'G'],[2375.05,'D'],[2375.7,'G'],[2376.7,'D'],[2377.8,'Y'],[2379.65,'G'],[2380.95,'Y'],[2381.2,'D'],[2381.65,'G'],[2382.4,'Y'],[2382.55,'D'],[2386.65,'Y'],[2388.05,'D'],[2389.6,'Y'],[2390.15,'G'],[2391.5,'Y'],[2391.9,'G'],[2394.9,'Y'],[2395.05,'G'],[2396.05,'D'],[2396.3,'G'],[2396.95,'Y'],[2399.35,'D'],[2399.65,'Y'],[2401.2,'G'],[2401.9,'Y'],[2402.05,'G'],[2402.75,'D'],[2403.2,'G'],[2403.5,'D'],[2403.85,'G'],[2404.8,'L'],[2405,'F'],[2407.15,'O'],[2407.3,'Y'],[2408.9,'G'],[2409.85,'Y'],[2412.8,'O'],[2413.6,'Y'],[2415.7,'G'],[2416,'O'],[2416.7,'Y'],[2417,'G'],[2417.3,'Y'],[2418.4,'F'],[2418.7,'O'],[2419.15,'Y'],[2420.3,'O'],[2420.7,'Y'],[2421.8,'G'],[2423.2,'B'],[2423.4,null],[2423.85,'B'],[2424,'O'],[2424.75,'Y'],[2425.4,'G'],[2425.7,'Y'],[2426.6,'G'],[2427.9,'Y'],[2428.1,'G'],
  [2429.4,'D'],[2430.9,'Y'],[2431.45,'G'],[2432.45,'Y'],[2432.7,'D'],[2433.2,'G'],[2435.6,'Y'],[2436.3,'G'],[2436.55,'Y'],[2436.75,'G'],[2437.25,'Y'],[2437.65,'G'],[2441.4,'O'],[2442.1,'G'],[2445.65,'D'],[2445.85,'G'],[2446.1,'Y'],[2446.3,'G'],[2446.95,'D'],[2447.2,'G'],[2449.25,'Y'],[2449.4,'G'],[2449.9,'D'],[2450.3,'G'],[2458.4,'Y'],[2458.55,'G'],[2459.7,'Y'],[2461,'G'],[2462.4,'Y'],[2462.6,'G'],[2462.85,'Y'],[2463,'G'],[2464.2,'Y'],[2464.4,'G'],[2464.7,'Y'],[2465.05,'G'],[2465.3,'Y'],[2466.25,'G'],[2472.8,'D'],[2473.45,'G'],[2474.9,'D'],[2475.25,'G'],
  [2480.95,'D'],[2483.5,'G'],[2490.4,'D'],[2490.7,'G'],[2494,'D'],[2494.45,'G'],[2496.8,'D'],[2498.25,'G'],[2499.05,'D'],[2504.3,'G'],[2508.9,'D'],[2510.2,'G'],[2512.05,'Y'],[2517.65,'G'],[2519.1,'D'],[2525.15,'G'],[2527.7,'D'],[2528.85,'G'],[2530.1,null]];

const faciesNames = ['Wackstone with microporosty', 'Grianstone with some separate-vug pore space', 'Grian-dominated packstone', 'Mudstone with microfracture', 'Mud-dominated packstone', 'Griansone', 'Wackstone with microfracture'];
const legendColors = ['#00CCF5', '#00FF00', '#FFA530', '#B71C1C', '#00CC00', '#FFFF00', '#FF33FF'];

const bandColors = {
  C: '#00C4E8', G: '#00FF00', O: '#FF8C00', M: '#B71C1C', D: '#00CC00', Y: '#FFFF00', F: '#FF00FF',
  // blended thin lines in the scan
  B: '#6F80E8', N: '#0040B0', P: '#FF5CA8', L: '#C0A000'
};

// layout, page pixels
const trackTop = 204;
const trackBottom = 2184;
const columns = [33, 235, 486, 738, 990, 1242, 1494, 1746, 1997, 2250];

const page = document.getElementById('page');
const measureCtx = document.createElement('canvas').getContext('2d');

const addBox = (x, y, w, h, color, z = 3) => {
  const el = document.createElement('div');
  el.className = 'box';
  el.style.cssText = `left:${x}px;top:${y}px;width:${w}px;height:${h}px;background:${color};z-index:${z}`;
  page.appendChild(el);
  return el;
};

// centre a label on x,y; fitWidth squeezes it to the width it has in the scan
const addText = (text, x, y, font, color, fitWidth) => {
  const el = document.createElement('div');
  el.className = 'txt';
  el.textContent = text;
  el.style.font = font;
  el.style.color = color;
  el.style.zIndex = 4;
  el.style.left = x + 'px';
  el.style.top = y + 'px';
  let squeeze = '';
  if (fitWidth) {
    measureCtx.font = font;
    squeeze = ` scaleX(${fitWidth / measureCtx.measureText(text).width})`;
  }
  el.style.transform = `translate(-50%,-50%)${squeeze}`;
  page.appendChild(el);
};

const addCanvas = (col) => {
  const canvas = document.createElement('canvas');
  canvas.width = columns[col + 1] - columns[col];
  canvas.height = trackBottom - trackTop;
  canvas.style.left = columns[col] + 'px';
  canvas.style.top = trackTop + 'px';
  canvas.style.zIndex = 2;
  page.appendChild(canvas);
  return canvas.getContext('2d');
};

const baseOptions = {
  responsive: false,
  animation: false,
  devicePixelRatio: 1,
  layout: { padding: 0 },
  plugins: { legend: { display: false }, tooltip: { enabled: false } }
};

const depthScale = { type: 'linear', reverse: true, min: depthTop, max: depthBottom, display: false };

const curveDataset = (label, log, color, width, xAxisID) => ({
  label,
  data: log.map(([depth, value]) => ({ x: value, y: depth })),
  borderColor: color,
  borderWidth: width,
  pointRadius: 0,
  showLine: true,
  tension: 0,
  borderJoinStyle: 'round',
  xAxisID
});

const curveTrack = (col, datasets, xScales) => new Chart(addCanvas(col), {
  type: 'scatter',
  data: { datasets },
  options: { ...baseOptions, scales: { ...xScales, y: depthScale } }
});

const rockTrack = (col, name, bands) => {
  const datasets = [];
  bands.forEach(([top, code], i) => {
    if (!code || i === bands.length - 1) return;
    datasets.push({ label: code, data: [[top, bands[i + 1][0]]], backgroundColor: bandColors[code], borderWidth: 0 });
  });
  return new Chart(addCanvas(col), {
    type: 'bar',
    data: { labels: [name], datasets },
    options: {
      ...baseOptions,
      grouped: false,
      categoryPercentage: 1,
      barPercentage: 1,
      scales: { x: { display: false }, y: depthScale }
    }
  });
};

// the last band of a track has to reach the bottom of the log
const closeBands = (bands) => (bands[bands.length - 1][1] === null ? bands : [...bands, [depthBottom, null]]);

// depth column: ticks on both sides, every metre, long at every ten
const depthTicks = {
  id: 'depthTicks',
  afterDraw(chart) {
    const { ctx, scales: { y } } = chart;
    ctx.save();
    ctx.strokeStyle = '#555';
    ctx.lineWidth = 3;
    y.ticks.forEach((tick) => {
      const py = Math.round(y.getPixelForValue(tick.value)) + 0.5;
      const len = tick.value % 10 === 0 ? 24 : 11;
      ctx.beginPath();
      ctx.moveTo(0, py);
      ctx.lineTo(len, py);
      ctx.moveTo(chart.width - len, py);
      ctx.lineTo(chart.width, py);
      ctx.stroke();
    });
    ctx.restore();
  }
};

const labelShift = 0.4; // the numbers sit a little below their ticks in the scan

new Chart(addCanvas(0), {
  type: 'scatter',
  data: { datasets: [] },
  plugins: [depthTicks],
  options: {
    ...baseOptions,
    scales: {
      x: { display: false, min: 0, max: 1 },
      y: {
        ...depthScale,
        ticks: { stepSize: 1, includeBounds: false, autoSkip: false, maxTicksLimit: 400 }
      },
      yLabels: {
        type: 'linear',
        position: 'left',
        reverse: true,
        min: depthTop - labelShift,
        max: depthBottom - labelShift,
        afterFit: (scale) => {
          scale.width = 136;
          scale.paddingTop = 0;
          scale.paddingBottom = 0;
        },
        grid: { display: false, drawTicks: false },
        border: { display: false },
        ticks: {
          stepSize: 1,
          includeBounds: false,
          autoSkip: false,
          maxTicksLimit: 400,
          padding: 0,
          color: '#000',
          font: { family: '"Liberation Serif"', size: 35, weight: 'bold' },
          callback: (value) => (depthLabels.includes(value) ? String(value) : '')
        }
      }
    }
  }
});

curveTrack(1, [curveDataset('GR', grLog, '#000', 4, 'x')], { x: { type: 'linear', min: 0, max: 150, display: false } });

curveTrack(2, [
  curveDataset('DT', dtLog, '#FF00FF', 4.5, 'xDt'),
  curveDataset('RHOB', rhobLog, '#FF0000', 5, 'xRhob')
], {
  xDt: { type: 'linear', reverse: true, min: 40, max: 90, display: false },
  xRhob: { type: 'linear', min: 2, max: 3, display: false }
});

rockTrack(3, 'Actual Rock types', closeBands(actualBands));

curveTrack(4, [
  curveDataset('RT', rtLog, '#FF0000', 5, 'x'),
  curveDataset('RXO', rxoLog, '#00B050', 3, 'x')
], { x: { type: 'logarithmic', min: 0.2, max: 2000, display: false } });

rockTrack(5, 'GBM_Rock', closeBands(gbmBands));
rockTrack(6, 'MLP_Rock', closeBands(mlpBands));
rockTrack(7, 'KNN_Rock', closeBands(knnBands));
rockTrack(8, 'Random Forest_Rock', closeBands(forestBands));

// frame and header rules
addBox(33, 26, 202, 2158, '#F5FAFF', 1);
addBox(27, 21, 2228, 5, '#222');
addBox(27, 21, 6, 2170, '#111');
addBox(2250, 21, 5, 2170, '#111');
addBox(27, 2183, 2228, 8, '#111');
[235, 486, 738, 990, 1242].forEach((x) => addBox(x - 2, 26, 4, 2158, '#777'));
[1494, 1746, 1997].forEach((x) => addBox(x - 1, 26, 3, 2158, '#111'));
addBox(33, 198, 2217, 5, '#8A8A8A');

addBox(486, 63, 252, 6, '#FF00FF');
addBox(990, 64, 252, 3, '#00B050');
addBox(235, 153, 251, 6, '#111');
addBox(486, 153, 252, 6, '#FF2020');
addBox(738, 154, 252, 4, '#3030FF');
addBox(990, 153, 252, 6, '#FF2020');
addBox(1242, 154, 1008, 4, '#3030FF');

// header text
const serifBold = 'bold 34px "Liberation Serif"';
const sans = (size) => `${size}px "Open Sans"`;
const blue = '#2222FF';
const magenta = '#FF00FF';
const red = '#FF1010';
const green = '#00A850';

addText('Reference', 134, 99, serifBold, '#000', 149);
addText('(m)', 134, 132, serifBold, '#000');
addText('1:1000', 134, 171, serifBold, '#000');

addText('GR', 360, 136, sans(34), '#222', 46);
addText('0', 260, 180, sans(29), '#111');
addText('gAPI', 360, 180, sans(29), '#111', 65);
addText('150', 445, 180, sans(29), '#111', 50);

addText('DT', 612, 46, sans(32), magenta, 38);
addText('90', 525, 91, sans(32), magenta);
addText('us/ft', 612, 91, sans(32), magenta, 70);
addText('40', 699, 91, sans(32), magenta);
addText('RHOB', 612, 136, sans(33), red, 92);
addText('2', 515, 180, sans(32), red);
addText('g/cm3', 610, 180, sans(32), red, 100);
addText('3', 708, 180, sans(32), red);

addText('Actual Rock types', 864, 137, sans(30), blue, 246);

addText('RXO', 1115, 46, sans(32), green, 68);
addText('0.2', 1018, 90, sans(23), green, 30);
addText('ohm.m', 1115, 90, sans(23), green, 77);
addText('2000', 1203, 90, sans(23), green, 50);
addText('RT', 1115, 136, sans(32), red, 38);
addText('0.2', 1018, 180, sans(23), '#FF5050', 30);
addText('ohm.m', 1115, 180, sans(23), '#FF5050', 77);
addText('2000', 1203, 180, sans(23), '#FF5050', 50);

addText('GBM_Rock', 1368, 136, sans(33), blue, 168);
addText('MLP_Rock', 1620, 136, sans(33), blue, 157);
addText('KNN_Rock', 1871, 136, sans(33), blue, 163);
addText('Random Forest_Rock', 2123, 135, sans(23), blue, 230);

// legend box
addBox(59, 2218, 2175, 6, '#000');
addBox(59, 2332, 2175, 6, '#000');
addBox(59, 2766, 2175, 6, '#000');
addBox(59, 2218, 5, 554, '#000');
addBox(2229, 2218, 5, 554, '#000');
addText('Lengend', 1060, 2277, '50px "Liberation Serif"', '#000', 182);

const legendSlots = [
  { x: 127, y: 2368, h: 79, tx: 613, ty: 2415, tw: 637 },
  { x: 127, y: 2474, h: 80, tx: 775, ty: 2514, tw: 982 },
  { x: 127, y: 2574, h: 80, tx: 591, ty: 2614, tw: 586 },
  { x: 127, y: 2672, h: 82, tx: 615, ty: 2713, tw: 618 },
  { x: 1390, y: 2381, h: 80, tx: 1842, ty: 2419, tw: 565 },
  { x: 1390, y: 2479, h: 80, tx: 1676, ty: 2516, tw: 214 },
  { x: 1391, y: 2582, h: 83, tx: 1877, ty: 2624, tw: 641 }
];

faciesNames.forEach((name, i) => {
  const slot = legendSlots[i];
  const swatch = addBox(slot.x, slot.y, 150, slot.h, legendColors[i]);
  swatch.style.boxSizing = 'border-box';
  swatch.style.border = '4px solid #0B4C8C';
  swatch.style.outline = '2px solid #9FB6D6';
  addText(name, slot.tx, slot.ty, '51px "Liberation Serif"', '#000', slot.tw);
});
</script>
</body>
</html>
